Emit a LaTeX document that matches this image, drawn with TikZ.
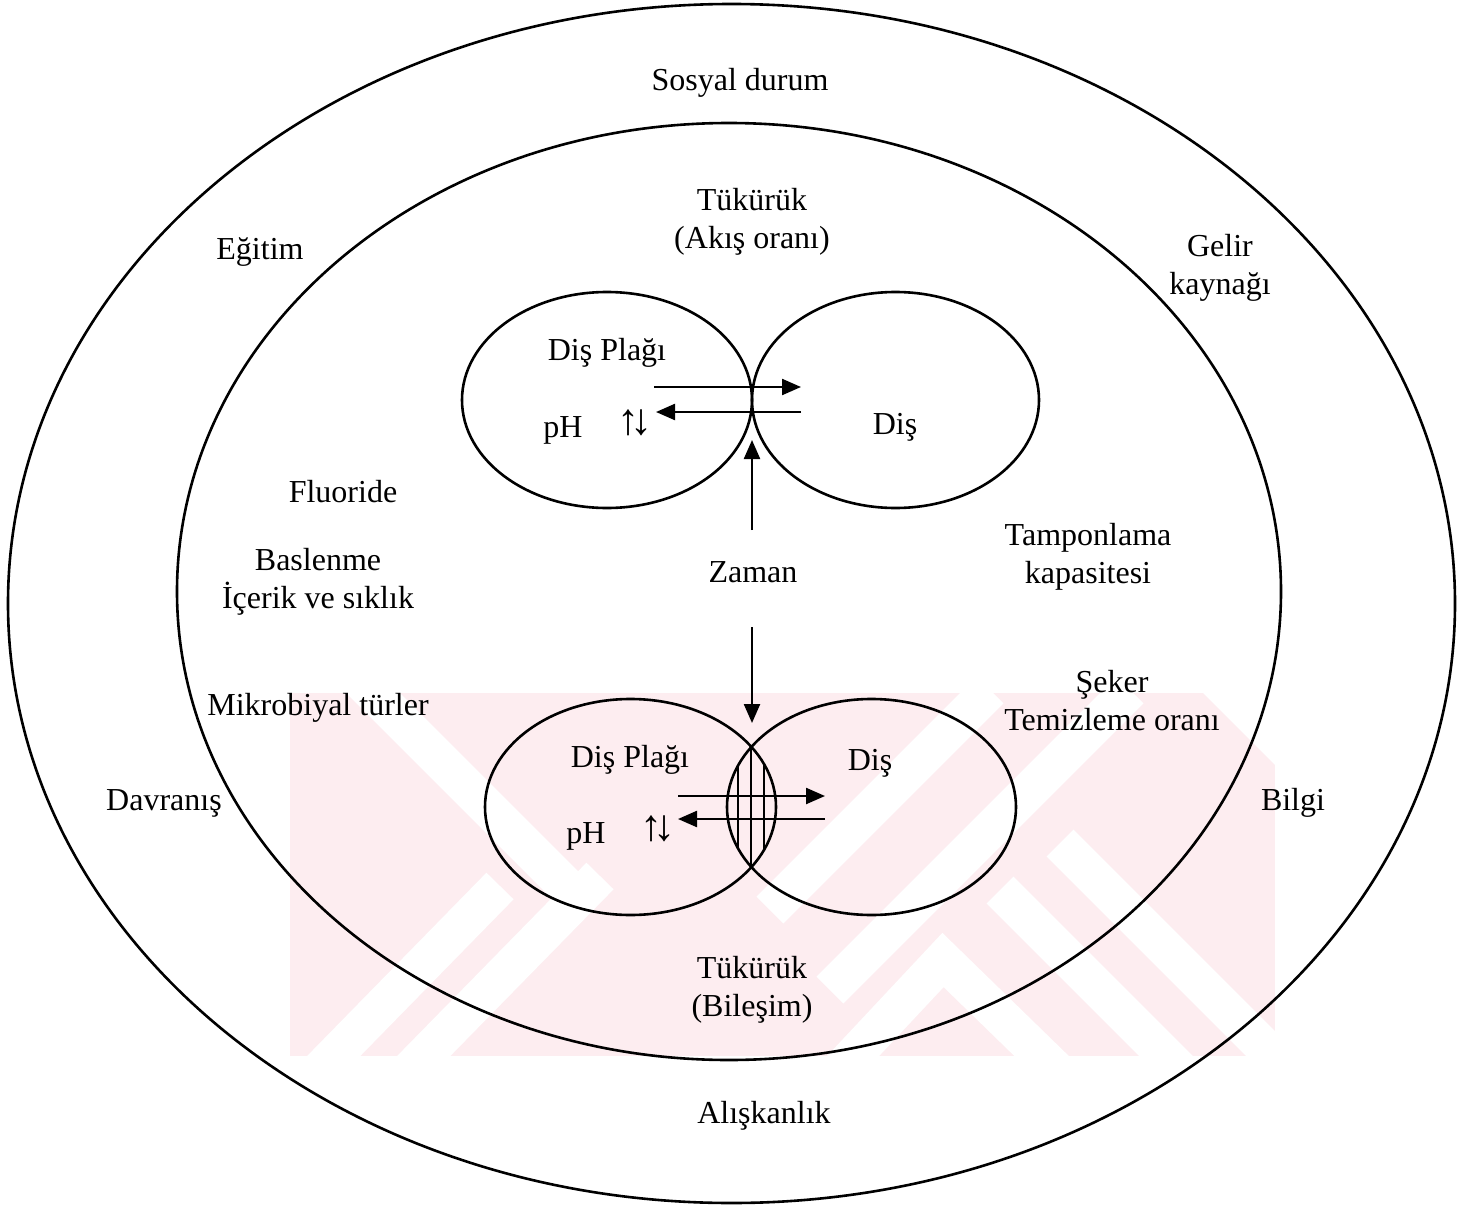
\documentclass[tikz,border=0pt]{standalone}
\usepackage{fontspec}
\setmainfont{Liberation Serif}
\usetikzlibrary{arrows.meta,shapes.geometric}
\definecolor{wm}{RGB}{253,237,240}
\begin{document}
\begin{tikzpicture}[x=1pt,y=-1pt,
  ring/.style={draw, line width=2.6pt, ellipse, inner sep=0pt},
  lbl/.style={font=\fontsize{32}{38}\selectfont, align=center, inner sep=0pt},
  updown/.style={font=\fontsize{44}{44}\selectfont, inner sep=0pt},
  arr/.style={line width=2.3pt, -{Triangle[length=19pt,width=16pt]}},
  gap/.style={white, line width=38pt, line cap=butt},
  hatch/.style={line width=2.2pt}
]
\useasboundingbox (0,0) rectangle (1473,1207);
% faint watermark in the background
\begin{scope}
\clip (290,693) rectangle (1275,1056);
\fill[wm] (290,693) rectangle (1275,1056);
\draw[gap] (360,680) -- (570,890);
\draw[gap] (320,1070) -- (500,886);
\draw[gap] (410,1070) -- (600,876);
\draw[gap] (770,910) -- (990,690);
\draw[gap] (830,990) -- (1130,690);
\draw[gap] (840,1070) -- (943,960) -- (1056,1070);
\draw[gap] (1000,890) -- (1180,1070);
\draw[gap] (1060,843) -- (1290,1073);
\fill[white] (1203,693) -- (1275,693) -- (1275,765) -- cycle;
\end{scope}

% rings
\node[ring, minimum width=1447pt, minimum height=1199pt] (outer) at (731.5,603.5) {};
\node[ring, minimum width=1104pt, minimum height=937pt] (inner) at (729,591.5) {};

% upper pair
\node[ring, minimum width=290pt, minimum height=216pt] (plaqA) at (607,400) {};
\node[ring, minimum width=287pt, minimum height=216pt] (toothA) at (895.5,400) {};
% lower pair
\node[ring, minimum width=291pt, minimum height=216pt] (plaqB) at (630.5,807) {};
\node[ring, minimum width=289pt, minimum height=216pt] (toothB) at (871.5,807) {};

% hatching in the overlap
\begin{scope}
\clip (630.5,807) ellipse [x radius=145.5, y radius=108];
\clip (871.5,807) ellipse [x radius=144.5, y radius=108];
\draw[hatch] (738,690) -- (738,920);
\draw[hatch] (751,690) -- (751,920);
\draw[hatch] (764,690) -- (764,920);
\end{scope}

% labels
\node[lbl] (sosyal) at (740,83) {Sosyal durum};
\node[lbl] (tukA) at (752,222) {Tükürük\\(Akış oranı)};
\node[lbl] (egitim) at (260,252) {Eğitim};
\node[lbl] (gelir) at (1220,268) {Gelir\\kaynağı};
\node[lbl] (dpA) at (607,353) {Diş Plağı};
\node[lbl] (phA) at (563,430) {pH};
\node[updown] (udA) at (635,423) {↑\kern-9pt↓};
\node[lbl] (disA) at (895,427) {Diş};
\node[lbl] (fluor) at (343,492) {Fluoride};
\node[lbl] (tampon) at (1088,557) {Tamponlama\\kapasitesi};
\node[lbl] (beslen) at (318,582) {Baslenme\\İçerik ve sıklık};
\node[lbl] (zaman) at (753,572) {Zaman};
\node[lbl] (seker) at (1112,701) {Şeker\\Temizleme oranı};
\node[lbl] (mikro) at (318,708) {Mikrobiyal türler};
\node[lbl] (dpB) at (630,760) {Diş Plağı};
\node[lbl] (disB) at (870,763) {Diş};
\node[lbl] (davr) at (164,803) {Davranış};
\node[lbl] (bilgi) at (1293,803) {Bilgi};
\node[lbl] (phB) at (586,836) {pH};
\node[updown] (udB) at (658,829) {↑\kern-9pt↓};
\node[lbl] (tukB) at (752,990) {Tükürük\\(Bileşim)};
\node[lbl] (alis) at (764,1116) {Alışkanlık};

% arrows, upper
\coordinate (a1s) at (654,387); \coordinate (a1e) at (801,387);
\coordinate (a2s) at (801,412); \coordinate (a2e) at (656,412);
\coordinate (z1s) at (752,530); \coordinate (z1e) at (752,440);
\draw[arr] (a1s) -- (a1e);
\draw[arr] (a2s) -- (a2e);
\draw[arr] (z1s) -- (z1e);
% arrows, lower
\coordinate (b1s) at (678,796); \coordinate (b1e) at (825,796);
\coordinate (b2s) at (825,819); \coordinate (b2e) at (678,819);
\coordinate (z2s) at (752,627); \coordinate (z2e) at (752,723);
\draw[arr] (b1s) -- (b1e);
\draw[arr] (b2s) -- (b2e);
\draw[arr] (z2s) -- (z2e);
\end{tikzpicture}
\end{document}
